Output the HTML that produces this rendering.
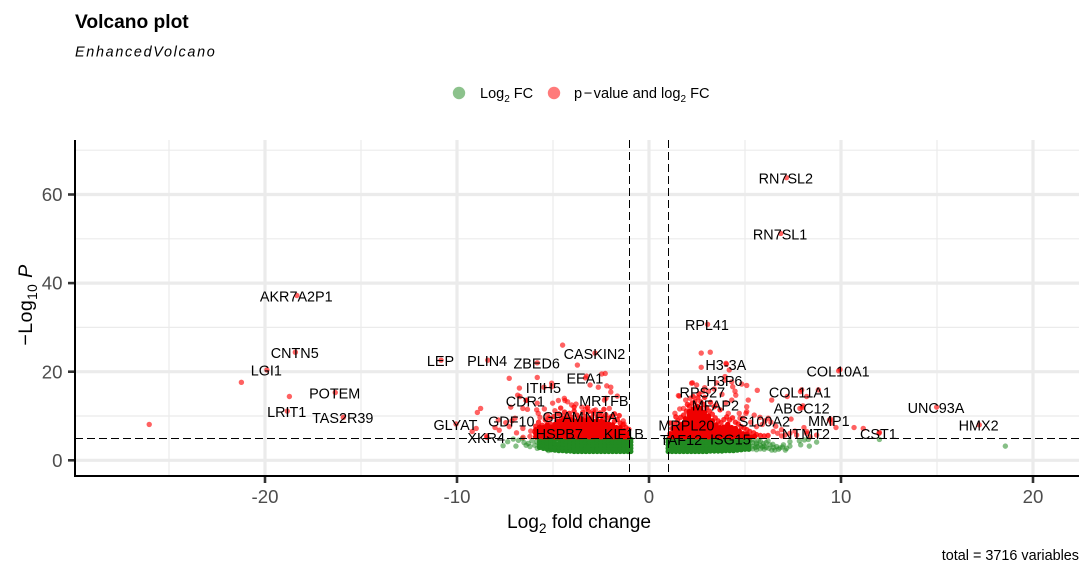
<!DOCTYPE html>
<html lang="en">
<head>
<meta charset="utf-8">
<title>Volcano plot</title>
<style>
  html,body{margin:0;padding:0;background:#fff;}
  svg{display:block;font-family:"Liberation Sans",sans-serif;}
</style>
</head>
<body>
<svg id="chart" width="1092" height="576" viewBox="0 0 1092 576" xmlns="http://www.w3.org/2000/svg">
  <text x="75" y="28" font-size="19.2" font-weight="700" fill="#000">Volcano plot</text>
  <text x="75" y="56.5" font-size="14.4" font-style="italic" letter-spacing="1.68" fill="#000">EnhancedVolcano</text>

  <circle cx="459" cy="93" r="6.2" fill="#228b22" fill-opacity="0.52"/>
  <text x="480" y="98" font-size="14.5" fill="#000">Log<tspan font-size="10" dy="4">2</tspan><tspan dy="-4"> FC</tspan></text>
  <circle cx="554" cy="93" r="6.2" fill="#ff0000" fill-opacity="0.52"/>
  <text x="574" y="98" font-size="14.6" fill="#000">p<tspan dx="1.5">−</tspan><tspan dx="1.5">value and log</tspan><tspan font-size="10" dy="4">2</tspan><tspan dy="-4"> FC</tspan></text>

  <g id="grid"></g>
  <g id="points"></g>
  <g id="thresholds"></g>
  <g id="labels"></g>
  <g id="axes"></g>

  <text x="579" y="528" text-anchor="middle" font-size="19.2" fill="#000">Log<tspan font-size="13.5" dy="5">2</tspan><tspan dy="-5"> fold change</tspan></text>
  <text transform="translate(32,305) rotate(-90)" text-anchor="middle" font-size="19.6" letter-spacing="0.4" fill="#000">−Log<tspan font-size="13.8" dy="5">10</tspan><tspan dy="-5"> </tspan><tspan font-style="italic">P</tspan></text>
  <text x="1079" y="560" text-anchor="end" font-size="14.4" fill="#000">total = 3716 variables</text>
</svg>
<script>
const xTicks = [-20, -10, 0, 10, 20];
const yTicks = [0, 20, 40, 60];
const xMinorTicks = [-25, -15, -5, 5, 15];
const yMinorTicks = [10, 30, 50, 70];
const fcCutoffs = [-1, 1];
const pCutoffs = [5];

/* labelled genes: [name, log2 fold change, -log10 P] */
const labelledGenes = [
  ["RN7SL2",7.16,63.8],["RN7SL1",6.86,51.2],["AKR7A2P1",-18.34,37.2],["CNTN5",-18.42,24.4],
  ["LGI1",-19.9,20.4],["POTEM",-16.34,15.3],["LRIT1",-18.84,11.1],["TAS2R39",-15.92,9.7],
  ["LEP",-10.83,22.6],["PLIN4",-8.4,22.6],["ZBED6",-5.82,22.0],["CASKIN2",-2.81,24.2],
  ["EEA1",-3.31,18.6],["ITIH5",-5.47,16.5],["CDR1",-6.41,13.5],["MRTFB",-2.32,13.6],
  ["GPAM",-4.44,10.0],["NFIA",-2.46,10.0],["GDF10",-7.14,8.9],["GLYAT",-10.05,8.2],
  ["XKR4",-8.45,5.2],["HSPB7",-4.64,6.1],["KIF1B",-1.28,6.1],["MRPL20",1.98,8.0],
  ["TAF12",1.7,4.8],["ISG15",4.27,4.9],["S100A2",6.04,8.9],["MFAP2",3.49,12.5],
  ["RPS27",2.81,15.5],["H3P6",3.96,18.1],["H3-3A",4.03,21.7],["RPL41",3.05,30.7],
  ["COL10A1",9.88,20.2],["COL11A1",7.89,15.5],["ABCC12",7.98,11.9],["MMP1",9.4,9.1],
  ["NTMT2",8.21,6.1],["CST1",11.98,6.1],["UNC93A",14.98,12.0],["HMX2",17.2,8.0]
];

/* isolated significant points: [fc, p] */
const redScatterLeft = [
  [-26.03,8.1],[-21.23,17.6],[-18.73,14.4],[-7.28,18.5],[-5.82,18.7],[-6.75,16.3],[-5.07,17.4],[-5.07,16.6],
  [-4.5,26.0],[-3.73,21.5],[-3.25,19],[-2.46,19.5],[-2.28,19.6],[-3.07,17],[-2.64,16.5],[-2.2,16.8],
  [-1.99,16.5],[-1.99,15.4],[-1.65,14.5],[-2.24,14],[-6.84,14.7],[-6.72,14.4],[-6.37,13.6],[-7.2,12],
  [-6.57,11.7],[-6.33,11.5],[-8.77,11.7],[-8.94,10.8],[-5.82,12.9],[-5.02,12.9],[-4.72,13.5],[-4.41,14],
  [-4.38,13.5],[-4.24,13.2],[-4.03,12.5],[-3.8,12.7],[-3.5,12],[-2.07,11.7],[-2.78,11.4],[-5.85,11.4],
  [-5.77,10.6],[-5.68,9.7],[-1.34,8.9],[-1.3,8.2],[-6.98,9.5],[-7.46,8.5],[-7.85,9.1],[-7.28,7.6],
  [-6.57,7.2],[-8.02,7.4],[-7.8,6.8],[-9.0,7.2],[-9.21,6.5],[-8.45,5.5],[-6.16,6.6],[-6.56,5.2],
  [-6.2,5.4],[-5.95,6.4],[-6.9,6.2],[-3.3,11.6],[-2.9,11.2],[-5.3,10.2],[-4.9,11.2],[-5.45,11.6]
];
const redScatterRight = [
  [2.72,24.2],[3.19,24.4],[2.72,21.0],[4.01,21.9],[4.18,20.4],[9.95,20.5],[5.64,15.8],[5.09,16.9],
  [4.83,17.2],[4.48,15.6],[4.52,14.7],[4.36,16.6],[4.31,17.7],[3.96,18.9],[3.53,17.5],[2.26,17.5],
  [2.48,17.0],[1.58,14.5],[1.91,13.6],[2.14,14],[5.17,13.6],[6.39,13.6],[5.09,12.1],[5.09,11],
  [4.7,10.6],[1.79,11.7],[4.13,10.6],[7.2,14.4],[7.95,15.9],[8.21,14.4],[8.82,15.9],[7.86,11.7],
  [8.02,12.3],[7.4,9.3],[9.46,9.3],[9.51,8.4],[9.74,7.4],[10.68,7.4],[11.16,7.2],[12.0,6.3],
  [8.07,7.4],[6.47,6.5],[8.73,5.7],[8.21,6.5],[7.34,6.1],[6.7,6.1],[7.08,5.7],[7.69,5.7],
  [8.39,5.3],[6.91,5.5],[5.48,10.2],[5.78,9.7],[6.21,9.5],[6.35,8.6],[5.9,8.1],[6.6,7.7],
  [5.6,7.6],[5.3,8.6],[4.9,9.5],[4.31,13.6],[3.1,15.6],[3.4,16.1],[2.9,16.4],[3.8,14.9],
  [4.0,13.0],[1.53,14.6],[2.22,17.4],[4.74,9.5],[5.05,10.6],[1.35,10.6],[1.6,11.6],[6.9,6.9],[7.6,6.6]
];

/* broken upper edge of the dense clouds: [fc, p] */
const redFringeLeft = [
  [-5.75,8.6],[-5.55,7.9],[-5.4,9.1],[-5.15,8.3],[-5.2,9.6],[-4.95,9.9],[-4.8,8.9],[-4.7,10.5],
  [-4.55,9.5],[-4.4,10.9],[-4.3,9.8],[-4.15,10.6],[-4.0,9.7],[-3.9,11.1],[-3.75,10.2],[-3.6,9.6],
  [-3.45,10.8],[-3.3,9.9],[-3.15,11],[-3.0,9.6],[-2.9,10.6],[-2.7,9.8],[-2.55,10.7],[-2.4,9.6],
  [-2.25,10.3],[-2.1,9.5],[-1.95,9.9],[-1.8,8.8],[-1.65,9.2],[-1.5,8.4],[-1.35,8.0],[-1.2,7.4],
  [-1.05,7.0],[-4.6,11.8],[-3.9,12],[-3.2,11.9],[-2.35,11.5],[-1.8,10.5],[-1.55,10.1],[-5.9,7.7]
];
const redFringeRight = [
  [1.2,7.2],[1.35,8.2],[1.5,8.9],[1.65,9.7],[1.8,10.2],[1.95,11.1],[2.1,12.2],[2.25,12.9],
  [2.4,13.3],[2.55,14.1],[2.7,13.2],[2.85,12.6],[3,11.9],[3.15,11.1],[3.3,10.4],[3.45,9.6],
  [3.6,8.9],[3.75,8.5],[3.9,9.2],[4.05,9.8],[4.2,9.1],[4.35,9.6],[4.5,8.6],[4.65,8.2],
  [4.8,7.6],[4.95,7.3],[5.1,6.9],[5.25,6.5],[5.45,6.2],[5.6,5.8],[5.8,5.6],[6.0,5.5],
  [6.2,5.6],[2.0,12.6],[2.3,14.4],[2.6,15.0],[2.9,14.2],[3.2,13.1],[3.4,12.1],[3.7,11.4],
  [1.4,9.8],[1.1,8.4]
];

/* dense significant columns: [fc, p, p, p ...] */
const redDenseLeft = [
  [-5.9,5.3,6.1,6.9],[-5.7,5.4,6.1,6.8,7.5],[-5.5,5.3,6,6.7,7.4],[-5.3,5.3,6,6.7,7.4,8],
  [-5.1,5.4,6.1,6.8,7.5],[-4.9,5.3,6,6.7,7.4,8.1],[-4.7,5.3,6,6.7,7.4,8.1,8.8],
  [-4.5,5.4,6.1,6.8,7.5,8.2,8.9],[-4.3,5.3,6,6.7,7.4,8.1,8.8,9.3],
  [-4.1,5.3,6,6.7,7.4,8.1,8.8,9.2],[-3.9,5.4,6.1,6.8,7.5,8.2,8.9],
  [-3.7,5.3,6,6.7,7.4,8.1,8.8],[-3.5,5.3,6,6.7,7.4,8.1,8.8,9.3],
  [-3.3,5.4,6.1,6.8,7.5,8.2,8.9],[-3.1,5.3,6,6.7,7.4,8.1,8.8,9.4],
  [-2.9,5.3,6,6.7,7.4,8.1,8.8],[-2.7,5.4,6.1,6.8,7.5,8.2,8.9],
  [-2.5,5.3,6,6.7,7.4,8.1,8.8],[-2.3,5.3,6,6.7,7.4,8.1,8.6],[-2.1,5.4,6.1,6.8,7.5,8.2],
  [-1.9,5.3,6,6.7,7.4,8],[-1.7,5.3,6,6.7,7.4],[-1.5,5.4,6.1,6.8,7.4],
  [-1.3,5.3,6,6.7],[-1.1,5.3,6]
];
const redDenseRight = [
  [1.1,5.3,6],[1.3,5.3,6,6.7,7.2],[1.5,5.4,6.1,6.8,7.5],[1.7,5.3,6,6.7,7.4,8.1],
  [1.9,5.3,6,6.7,7.4,8.1,8.8,9.4],[2.1,5.4,6.1,6.8,7.5,8.2,8.9,9.6,10.3,11],
  [2.3,5.3,6,6.7,7.4,8.1,8.8,9.5,10.2,10.9,11.6],[2.5,5.3,6,6.7,7.4,8.1,8.8,9.5,10.2,10.9,11.6,12.2],
  [2.7,5.4,6.1,6.8,7.5,8.2,8.9,9.6,10.3,11,11.7],[2.9,5.3,6,6.7,7.4,8.1,8.8,9.5,10.2,10.9],
  [3.1,5.3,6,6.7,7.4,8.1,8.8,9.5,10],[3.3,5.4,6.1,6.8,7.5,8.2,8.9],
  [3.5,5.3,6,6.7,7.4,8],[3.7,5.3,6,6.7,7.4],[3.9,5.4,6.1,6.8,7.5],
  [4.1,5.3,6,6.7,7.4,8.1],[4.3,5.3,6,6.7,7.4],[4.5,5.4,6.1,6.8,7.2],
  [4.7,5.3,6,6.6],[4.9,5.3,6],[5.1,5.4,5.9],[5.3,5.3],[5.5,5.4]
];

/* dense non-significant columns: [fc, p, p, p ...] */
const greenDenseLeft = [
  [-5.7,2.9,3.5,4.1,4.7],[-5.5,2.7,3.4,4.1,4.7],[-5.3,2.5,3.2,3.9,4.7],[-5.1,2.4,3.1,3.9,4.7],[-4.9,2.3,3,3.8,4.7],
  [-4.7,2.2,3,3.7,4.7],[-4.5,2.2,2.9,3.6,4.3,4.7],[-4.3,2.1,2.8,3.5,4.2,4.7],[-4.1,2.1,2.8,3.5,4.2,4.7],
  [-3.9,2,2.7,3.4,4.1,4.7],[-3.7,2,2.7,3.4,4.1,4.7],[-3.5,2,2.7,3.4,4.1,4.7],[-3.3,2,2.7,3.4,4.1,4.7],
  [-3.1,2,2.7,3.4,4.1,4.7],[-2.9,2,2.7,3.4,4.1,4.7],[-2.7,2,2.7,3.4,4.1,4.7],[-2.5,2,2.7,3.4,4.1,4.7],
  [-2.3,2,2.7,3.4,4.1,4.7],[-2.1,2,2.7,3.4,4.1,4.7],[-1.9,2,2.7,3.4,4.1,4.7],[-1.7,2,2.7,3.4,4.1,4.7],
  [-1.5,2,2.7,3.4,4.1,4.7],[-1.3,2,2.7,3.4,4.1,4.7],[-1.1,2,2.7,3.4,4.1,4.7],[-0.95,2,2.7,3.4,4.1,4.7]
];
const greenDenseRight = [
  [1,2,2.7,3.4,4.1,4.7],[1.2,2,2.7,3.4,4.1,4.7],[1.4,2,2.7,3.4,4.1,4.7],[1.6,2,2.7,3.4,4.1,4.7],
  [1.8,2,2.7,3.4,4.1,4.7],[2,2,2.7,3.4,4.1,4.7],[2.2,2,2.7,3.4,4.1,4.7],[2.4,2,2.7,3.4,4.1,4.7],
  [2.6,2,2.7,3.4,4.1,4.7],[2.8,2,2.7,3.4,4.1,4.7],[3,2,2.7,3.4,4.1,4.7],[3.2,2.1,2.8,3.5,4.2,4.7],
  [3.4,2.1,2.8,3.5,4.2,4.7],[3.6,2.1,2.8,3.5,4.2,4.7],[3.8,2.1,2.8,3.5,4.2,4.7],[4,2.2,2.9,3.6,4.3,4.7],
  [4.2,2.2,2.9,3.6,4.3,4.7],[4.4,2.2,2.9,3.6,4.3,4.7],[4.6,2.3,3,3.7,4.7],[4.8,2.4,3.1,3.8,4.6],
  [5,2.5,3.2,3.9,4.6],[5.2,2.5,3.3,4.1,4.7]
];

/* isolated non-significant points: [fc, p] */
const greenScatter = [
  [18.56,3.2],[12,4.7],[8.73,4.1],[8.35,3.2],[7.9,3.5],[7.83,4.4],[8.09,4.6],[8.3,4.7],
  [7.34,3.2],[7.17,2.7],[7.0,3.5],[6.82,2.8],[6.56,2.3],[6.39,2.3],[6.65,3.1],[7.34,4.2],
  [5.4,2.6],[5.4,3.2],[5.4,4],[5.45,4.6],[5.55,2.9],[5.6,2.4],[5.6,3.6],[5.65,3.1],[5.6,3.9],[5.7,4.5],
  [5.8,2.6],[5.8,3.4],[5.8,4.3],[5.9,3],[5.95,3.8],[6,2.5],[6,3.2],[6.1,4],[6.1,2.9],[6.25,2.7],[6.3,3.5],
  [6.2,4.4],[6.45,3.6],[6.5,2.9],[6.75,2.5],[6.95,3],[7.1,2.3],
  [-7.6,3.3],[-7.36,4.2],[-7.07,4.8],[-6.93,3.2],[-6.6,4.9],[-6.51,4],[-6.29,3.8],[-6.2,3.1],
  [-6.4,3.4],[-6.1,4.4],[-5.85,4.2],[-5.82,2.7],[-5.95,3.4],[-5.24,2.2],[-6.8,4.5]
];

const NS = "http://www.w3.org/2000/svg";
const plotLeft = 75, plotRight = 1079, plotTop = 140, plotBottom = 476;
function xScale(fc) { return 649 + fc * 19.2; }
function yScale(p) { return 460.3 - p * 4.43; }

const gridG = document.getElementById("grid");
const pointsG = document.getElementById("points");
const thresholdG = document.getElementById("thresholds");
const labelsG = document.getElementById("labels");
const axesG = document.getElementById("axes");

function makeLine(parent, x1, y1, x2, y2, color, width, dash) {
  const l = document.createElementNS(NS, "line");
  l.setAttribute("x1", x1);
  l.setAttribute("y1", y1);
  l.setAttribute("x2", x2);
  l.setAttribute("y2", y2);
  l.setAttribute("stroke", color);
  l.setAttribute("stroke-width", width);
  if (dash) l.setAttribute("stroke-dasharray", dash);
  parent.appendChild(l);
  return l;
}
function makeText(parent, x, y, str, size, color, anchor) {
  const t = document.createElementNS(NS, "text");
  t.setAttribute("x", x);
  t.setAttribute("y", y);
  t.setAttribute("font-size", size);
  t.setAttribute("fill", color);
  t.setAttribute("text-anchor", anchor);
  t.textContent = str;
  parent.appendChild(t);
  return t;
}
function makeDot(fc, p, color, opacity, name) {
  const c = document.createElementNS(NS, "circle");
  c.setAttribute("cx", xScale(fc));
  c.setAttribute("cy", yScale(p));
  c.setAttribute("r", 2.7);
  c.setAttribute("fill", color);
  c.setAttribute("fill-opacity", opacity);
  
  
  pointsG.appendChild(c);
}

/* grid */
xMinorTicks.forEach(function (v) {
  const l = makeLine(gridG, xScale(v), plotTop, xScale(v), plotBottom, "#ebebeb", 1.2);
  
  
});
yMinorTicks.forEach(function (v) {
  const l = makeLine(gridG, plotLeft, yScale(v), plotRight, yScale(v), "#ebebeb", 1.2);
  
  
});
xTicks.forEach(function (v) {
  const l = makeLine(gridG, xScale(v), plotTop, xScale(v), plotBottom, "#ebebeb", 3.2);
  
  
});
yTicks.forEach(function (v) {
  const l = makeLine(gridG, plotLeft, yScale(v), plotRight, yScale(v), "#ebebeb", 3.2);
  
  
});

/* points */
function drawColumns(columns, color, name) {
  columns.forEach(function (col) {
    for (let i = 1; i < col.length; i++) makeDot(col[0], col[i], color, 1, name);
  });
}
function drawScatter(list, color, opacity, name) {
  list.forEach(function (pt) { makeDot(pt[0], pt[1], color, opacity, name); });
}
drawScatter(greenScatter, "#228b22", 0.55, "point-log2fc");
drawColumns(greenDenseLeft, "#228b22", "point-log2fc");
drawColumns(greenDenseRight, "#228b22", "point-log2fc");
drawScatter(redScatterLeft, "#ff0000", 0.62, "point-pvalue-log2fc");
drawScatter(redScatterRight, "#ff0000", 0.62, "point-pvalue-log2fc");
drawScatter(redFringeLeft, "#ff0000", 0.8, "point-pvalue-log2fc");
drawScatter(redFringeRight, "#ff0000", 0.8, "point-pvalue-log2fc");
drawColumns(redDenseLeft, "#f00000", "point-pvalue-log2fc");
drawColumns(redDenseRight, "#f00000", "point-pvalue-log2fc");
labelledGenes.forEach(function (g) {
  if (g[2] >= 5) makeDot(g[1], g[2], "#ff0000", 0.62, "point-labelled-gene");
});

/* thresholds: snapped to the pixel grid so the dashes stay solid black */
fcCutoffs.forEach(function (v) {
  const px = Math.floor(xScale(v)) + 0.5;
  const l = makeLine(thresholdG, px, plotTop, px, plotBottom, "#000", 1, "8 4");
  
  
});
pCutoffs.forEach(function (v) {
  const py = Math.floor(yScale(v)) + 0.5;
  const l = makeLine(thresholdG, plotLeft, py, plotRight, py, "#000", 1, "8 4");
  
  
});

/* gene labels */
labelledGenes.forEach(function (g) {
  const t = makeText(labelsG, xScale(g[1]) - 0.6, yScale(g[2]) + 5.8, g[0], 14.4, "#000", "middle");
  
  
});

/* axes */
const yAxisLine = makeLine(axesG, plotLeft, plotTop, plotLeft, plotBottom + 1, "#000", 2);


const xAxisLine = makeLine(axesG, plotLeft - 1, plotBottom, plotRight, plotBottom, "#000", 2);


xTicks.forEach(function (v) {
  const tick = makeLine(axesG, xScale(v), plotBottom + 1, xScale(v), plotBottom + 7, "#333", 2.6);
  
  
  const label = makeText(axesG, xScale(v), 503, String(v), 18.67, "#4d4d4d", "middle");
  
  
});
yTicks.forEach(function (v) {
  const tick = makeLine(axesG, plotLeft - 7, yScale(v), plotLeft - 1, yScale(v), "#333", 2.6);
  
  
  const label = makeText(axesG, 62.5, yScale(v) + 6.6, String(v), 18.67, "#4d4d4d", "end");
  
  
});
</script>
</body>
</html>
